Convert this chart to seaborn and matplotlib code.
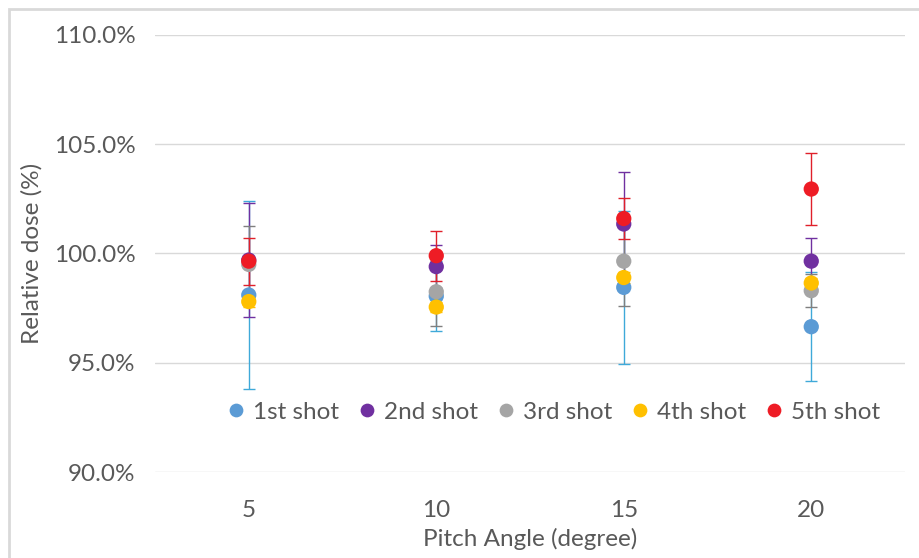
import numpy as np
import pandas as pd
import matplotlib
matplotlib.use("Agg")
import matplotlib.pyplot as plt
import seaborn as sns
from matplotlib.patches import Rectangle

# Data (relative dose in %)
angles = ["5", "10", "15", "20"]
shots = ["1st shot", "2nd shot", "3rd shot", "4th shot", "5th shot"]

dose_1st = [98.1, 98.05, 98.45, 96.65]
dose_2nd = [99.7, 99.4, 101.35, 99.65]
dose_3rd = [99.5, 98.25, 99.65, 98.3]
dose_4th = [97.8, 97.55, 98.9, 98.65]
dose_5th = [99.65, 99.9, 101.6, 102.95]

err_1st = [4.3, 1.6, 3.5, 2.5]
err_2nd = [2.6, 1.0, 2.4, 1.05]
err_3rd = [1.75, 1.55, 2.05, 0.75]
err_4th = [0.25, 0.25, 0.25, 0.25]
err_5th = [1.07, 1.15, 0.93, 1.65]

marker_colors = ["#5B9BD5", "#7030A0", "#A5A5A5", "#FFC000", "#EE1C25"]
bar_colors = ["#3FA9D9", "#7030A0", "#7F7F7F", "#FFC000", "#E0202A"]

doses = [dose_1st, dose_2nd, dose_3rd, dose_4th, dose_5th]
errs = [err_1st, err_2nd, err_3rd, err_4th, err_5th]

df = pd.DataFrame({
    "angle": angles * len(shots),
    "shot": np.repeat(shots, len(angles)),
    "dose": np.concatenate(doses),
    "err": np.concatenate(errs),
})

sns.set_style("white")
plt.rcParams["font.family"] = ["Lato", "DejaVu Sans"]
text_color = "#595959"
fs = 17.5

fig = plt.figure(figsize=(9.2, 5.58), dpi=100)
ax = fig.add_axes([0.1685, 0.1541, 0.8152, 0.7832])

# error bars first, markers on top
pos = np.arange(len(angles))
for i, shot in enumerate(shots):
    sub = df[df["shot"] == shot]
    ax.errorbar(pos, sub["dose"], yerr=sub["err"], fmt="none",
                ecolor=bar_colors[i], elinewidth=1.0, capsize=4.5,
                capthick=1.0, zorder=2 + i)

sns.stripplot(data=df, x="angle", y="dose", hue="shot", order=angles,
              hue_order=shots, palette=marker_colors, jitter=False,
              size=11, linewidth=0, ax=ax, zorder=10)

ax.set_ylim(90, 110)
ax.set_xlim(-0.5, 3.5)
ax.set_yticks([90, 95, 100, 105, 110])
ax.set_yticklabels([f"{v:.1f}%" for v in [90, 95, 100, 105, 110]])
ax.grid(axis="y", color="#D9D9D9", linewidth=1.0)
ax.set_axisbelow(True)
for s in ax.spines.values():
    s.set_visible(False)
ax.tick_params(axis="both", length=0, labelsize=fs, colors=text_color)
ax.tick_params(axis="y", pad=14)
ax.tick_params(axis="x", pad=20)

ax.set_xlabel("Pitch Angle (degree)", fontsize=fs, color=text_color, labelpad=5)
ax.set_ylabel("Relative dose (%)", fontsize=fs, color=text_color, labelpad=8)

ax.legend(loc="center", bbox_to_anchor=(0.533, 0.137), ncol=5, frameon=False,
          fontsize=fs, handlelength=0.6, handletextpad=0.4, columnspacing=0.85,
          labelcolor=text_color, markerscale=0.9, borderpad=0, borderaxespad=0)

# outer chart border
fig.add_artist(Rectangle((9 / 920, -0.1), 1.2, 1 - 9 / 558 + 0.1,
                         transform=fig.transFigure, fill=False,
                         edgecolor="#D9D9D9", linewidth=2))

fig.savefig("out.png", dpi=100)
